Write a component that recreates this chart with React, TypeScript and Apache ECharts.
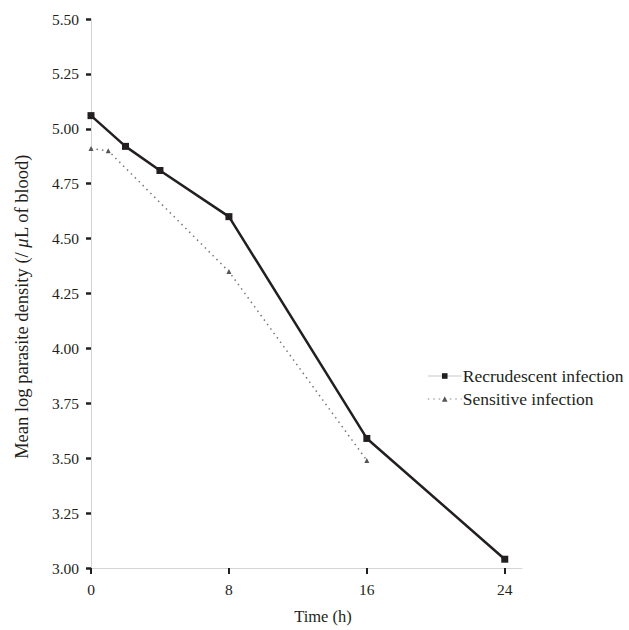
import React, { useEffect, useRef } from "react";
import * as echarts from "echarts";

const recrudescentTimes = [0, 2, 4, 8, 16, 24];
const recrudescentValues = [5.06, 4.92, 4.81, 4.6, 3.59, 3.04];
const sensitiveTimes = [0, 1, 8, 16];
const sensitiveValues = [4.91, 4.9, 4.35, 3.49];
const xTickValues = [0, 8, 16, 24];
const seriesNames = ["Recrudescent infection", "Sensitive infection"];

const FONT = "'Liberation Serif', 'DejaVu Serif', serif";
const INK = "#231f20";

export default function App() {
  const ref = useRef<HTMLDivElement>(null);
  useEffect(() => {
    if (!ref.current) return;
    const chart = echarts.init(ref.current, undefined, { renderer: "svg" });
    chart.setOption({
      animation: false,
      backgroundColor: "#ffffff",
      textStyle: { fontFamily: FONT },
      grid: { left: 91, right: 107, top: 19, bottom: 59, containLabel: false },
      legend: {
        orient: "vertical",
        left: 422,
        top: 362,
        itemWidth: 34,
        itemHeight: 7,
        itemGap: 5,
        textStyle: { fontFamily: FONT, fontSize: 17.5, color: INK, padding: [0, 0, 0, -4] },
        data: [
          {
            name: seriesNames[0],
            lineStyle: { color: "#c8c8c8", width: 1.2, type: "solid" },
          },
          {
            name: seriesNames[1],
            lineStyle: { color: "#b0b0b0", width: 1.5, type: [1.5, 4] },
          },
        ],
      },
      xAxis: {
        type: "value",
        min: 0,
        max: 25,
        interval: 8,
        name: "Time (h)",
        nameLocation: "middle",
        nameGap: 40,
        nameTextStyle: { fontFamily: FONT, fontSize: 16.5, color: INK, padding: [0, 0, 0, 33] },
        axisLine: { show: true, onZero: false, lineStyle: { color: "#d4d4d4", width: 1 } },
        axisTick: {
          show: true,
          customValues: xTickValues,
          inside: false,
          length: 6,
          lineStyle: { color: INK, width: 2 },
        },
        axisLabel: {
          customValues: xTickValues,
          margin: 13,
          fontFamily: FONT,
          fontSize: 15.5,
          color: INK,
        },
        splitLine: { show: false },
      },
      yAxis: {
        type: "value",
        min: 3,
        max: 5.5,
        interval: 0.25,
        name: "{a|Mean log parasite density (/ }{b|μ}{a|L of blood)}",
        nameLocation: "middle",
        nameGap: 60,
        nameTextStyle: {
          fontFamily: FONT,
          fontSize: 18.5,
          color: INK,
          padding: [0, 26, 0, 0],
          rich: {
            a: { fontFamily: FONT, fontSize: 18.5, color: INK },
            b: { fontFamily: FONT, fontSize: 18.5, color: INK, fontStyle: "italic" },
          },
        },
        axisLine: { show: true, lineStyle: { color: "#d4d4d4", width: 1 } },
        axisTick: { show: true, inside: false, length: 5, lineStyle: { color: INK, width: 2.5 } },
        axisLabel: {
          margin: 12,
          fontFamily: FONT,
          fontSize: 15.5,
          color: INK,
          formatter: (v: number) => v.toFixed(2),
        },
        splitLine: { show: false },
      },
      series: [
        {
          name: seriesNames[0],
          type: "line",
          data: recrudescentTimes.map((t, i) => [t, recrudescentValues[i]]),
          symbol: "rect",
          symbolSize: 7,
          itemStyle: { color: INK },
          lineStyle: { color: INK, width: 2.5 },
          z: 3,
        },
        {
          name: seriesNames[1],
          type: "line",
          data: sensitiveTimes.map((t, i) => [t, sensitiveValues[i]]),
          symbol: "triangle",
          symbolSize: 5,
          itemStyle: { color: "#555555" },
          lineStyle: { color: "#777777", width: 1.5, type: [1.5, 4] },
          z: 2,
        },
      ],
    });
    return () => chart.dispose();
  }, []);
  return <div ref={ref} style={{ width: 629, height: 630, position: "absolute", left: 0, top: 0 }} />;
}
